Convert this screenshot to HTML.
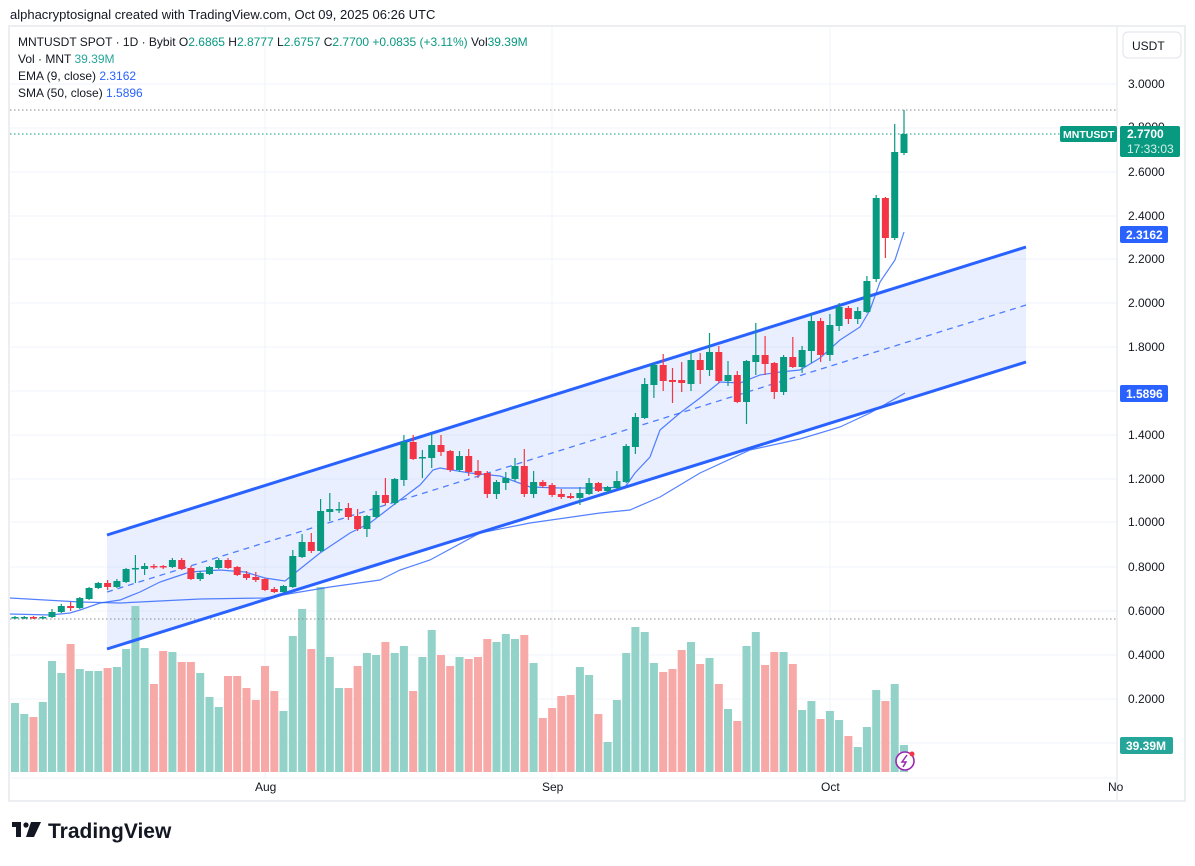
<!DOCTYPE html>
<html><head><meta charset="utf-8"><style>
body{margin:0;background:#fff;width:1195px;height:861px;overflow:hidden;font-family:"Liberation Sans",sans-serif;}
svg text{font-family:"Liberation Sans",sans-serif;}
</style></head><body>
<svg id="s" width="1195" height="861" xmlns="http://www.w3.org/2000/svg">
<text x="10" y="19" font-size="13" fill="#131722">alphacryptosignal created with TradingView.com, Oct 09, 2025 06:26 UTC</text>
<rect x="9" y="26" width="1176" height="775" fill="none" stroke="#eceef2" stroke-width="2"/>
<g id="grid" stroke="#f0f3fa" stroke-width="1"></g>
<polygon points="107,535 1026,247 1026,362 107,649" fill="#2962ff" fill-opacity="0.1"/>
<g id="vol"></g>
<line x1="10" y1="619" x2="1117" y2="619" stroke="#888" stroke-dasharray="1.5,2.5"/>
<line x1="10" y1="110" x2="1117" y2="110" stroke="#888" stroke-dasharray="1.5,2.5"/>
<line x1="10" y1="134" x2="1060" y2="134" stroke="#089981" stroke-dasharray="1.5,2.5"/>
<line x1="107" y1="535" x2="1026" y2="247" stroke="#2962ff" stroke-width="3"/>
<line x1="107" y1="649" x2="1026" y2="362" stroke="#2962ff" stroke-width="3"/>
<line x1="107" y1="592" x2="1026" y2="305" stroke="#2962ff" stroke-width="1.3" stroke-dasharray="6,5" opacity="0.8"/>
<polyline fill="none" stroke="#2962ff" stroke-width="1.2" opacity="0.8" points="10,598 80,602 120,603 200,599 265,598 300,592 330,587 380,580 400,570 430,560 480,533 530,523 600,513 630,510 660,497 700,473 750,450 800,439 840,427 870,413 905,393"/>
<polyline fill="none" stroke="#2962ff" stroke-width="1.2" opacity="0.8" points="10,614 50,615 70,613 80,610 100,603 120,600 140,592 160,582 175,577 190,572 220,570 245,572 265,578 285,581 300,569 320,553 350,533 370,523 400,500 420,485 433,470 440,468 470,473 500,476 530,487 560,488 600,488 625,487 635,473 650,457 660,430 680,413 700,398 720,382 740,383 760,375 780,372 800,370 820,358 840,340 860,327 870,310 880,282 895,260 904,232"/>
<g id="cd"></g>
<line x1="1117" y1="27" x2="1117" y2="800" stroke="#e0e3eb"/>
<line x1="10" y1="778" x2="1117" y2="778" stroke="#f0f3fa"/>
<rect x="1123" y="32" width="58" height="26" rx="5" fill="#fff" stroke="#e0e3eb"/>
<text x="1132" y="50" font-size="12" fill="#131722">USDT</text>
<g id="ax" font-size="12" fill="#131722"></g>
<rect x="1060" y="126" width="57" height="16" rx="2" fill="#089981"/>
<text x="1063" y="138" font-size="10.5" font-weight="bold" fill="#fff">MNTUSDT</text>
<rect x="1120" y="126" width="60" height="31" rx="2" fill="#089981"/>
<text x="1127" y="138" font-size="12" font-weight="bold" fill="#fff">2.7700</text>
<text x="1127" y="153" font-size="12" fill="#d8f0ea">17:33:03</text>
<rect x="1120" y="226" width="48" height="17" rx="2" fill="#2962ff"/>
<text x="1126" y="239" font-size="12" font-weight="bold" fill="#fff">2.3162</text>
<rect x="1120" y="385" width="48" height="17" rx="2" fill="#2962ff"/>
<text x="1126" y="398" font-size="12" font-weight="bold" fill="#fff">1.5896</text>
<rect x="1120" y="737" width="53" height="17" rx="2" fill="#26a69a"/>
<text x="1126" y="750" font-size="12" font-weight="bold" fill="#fff">39.39M</text>
<text x="255" y="791" font-size="12" fill="#131722">Aug</text>
<text x="542" y="791" font-size="12" fill="#131722">Sep</text>
<text x="821" y="791" font-size="12" fill="#131722">Oct</text>
<text x="1108" y="791" font-size="12" fill="#131722">No</text>
<circle cx="905" cy="761" r="9" fill="#fff" stroke="#9c27b0" stroke-width="1.6"/>
<path d="M907,755 L902,762 L906,762 L903,767" fill="none" stroke="#9c27b0" stroke-width="1.5"/>
<circle cx="912" cy="754" r="2.5" fill="#f23645"/>
<text x="18" y="46" font-size="12" fill="#131722">MNTUSDT SPOT · 1D · Bybit <tspan>O</tspan><tspan fill="#089981">2.6865</tspan> H<tspan fill="#089981">2.8777</tspan> L<tspan fill="#089981">2.6757</tspan> C<tspan fill="#089981">2.7700 +0.0835 (+3.11%)</tspan> Vol<tspan fill="#089981">39.39M</tspan></text>
<text x="18" y="63" font-size="12" fill="#131722">Vol · MNT <tspan fill="#26a69a">39.39M</tspan></text>
<text x="18" y="80" font-size="12" fill="#131722">EMA (9, close) <tspan fill="#2962ff">2.3162</tspan></text>
<text x="18" y="97" font-size="12" fill="#131722">SMA (50, close) <tspan fill="#2962ff">1.5896</tspan></text>
<g transform="translate(12,822)"><rect x="0" y="0" width="9" height="5" fill="#131722"/><rect x="4" y="0" width="5" height="15" fill="#131722"/><circle cx="14" cy="3" r="2.6" fill="#131722"/><polygon points="19,0 29,0 22,15 14,15" fill="#131722"/></g>
<text x="48" y="838" font-size="21" font-weight="bold" fill="#131722">TradingView</text>
</svg>
<script>
var NS="http://www.w3.org/2000/svg";
function el(p,t,a){var e=document.createElementNS(NS,t);for(var k in a)e.setAttribute(k,a[k]);document.getElementById(p).appendChild(e);return e;}
var lv=[[3.0,84],[2.8,128],[2.6,172],[2.4,216],[2.2,259],[2.0,303],[1.8,347],[1.6,391],[1.4,435],[1.2,479],[1.0,522],[0.8,567],[0.6,611],[0.4,655],[0.2,699]];
lv.forEach(function(l){el("grid","line",{x1:10,x2:1117,y1:l[1],y2:l[1]});
 if(l[0]!=2.8&&l[0]!=1.6)el("ax","text",{x:1128,y:l[1]+4}).textContent=l[0].toFixed(4);});
el("ax","text",{x:1128,y:131,fill:"#131722"}).textContent="2.8000";
el("grid","line",{x1:10,x2:1117,y1:743,y2:743});
[265,552,830].forEach(function(x){el("grid","line",{x1:x,x2:x,y1:27,y2:778});});
var C=[[618,617,616,619],[618,617,616,619],[617,618,616,619],[618,617,616,619],[617,612,609,618],[612,606,604,613],[606,608,602,611],[608,598,597,609],[599,588,587,600],[588,583,582,589],[583,587,580,590],[587,581,579,588],[582,569,568,583],[569,568,555,583],[569,566,563,575],[566,567,564,569],[566,567,565,569],[567,560,558,568],[560,569,558,570],[568,579,566,580],[579,573,571,581],[574,567,566,575],[568,560,558,569],[560,568,558,569],[567,575,566,576],[574,578,571,580],[577,580,572,582],[579,590,578,591],[589,592,587,593],[592,586,585,593],[587,556,550,588],[557,542,534,558],[542,551,533,553],[551,511,499,552],[512,509,493,521],[510,509,502,513],[508,517,503,520],[516,529,509,531],[529,516,515,537],[517,495,491,518],[495,503,478,505],[503,479,478,505],[480,442,435,486],[442,459,435,460],[457,457,450,478],[458,445,434,468],[445,452,435,456],[451,470,450,472],[470,456,451,472],[456,472,449,476],[471,475,460,478],[473,494,471,498],[494,482,480,499],[483,478,472,490],[479,466,458,481],[466,494,449,497],[494,482,471,498],[482,486,480,488],[485,495,483,497],[494,497,489,499],[496,498,493,499],[498,493,487,505],[494,483,478,495],[483,491,482,492],[491,487,486,493],[488,481,471,489],[482,446,444,483],[447,417,413,454],[418,384,378,419],[385,365,363,398],[365,381,354,391],[380,382,368,403],[380,383,362,392],[384,360,352,391],[360,370,353,384],[370,352,333,376],[352,381,346,383],[381,375,361,386],[375,402,371,403],[402,361,360,424],[362,355,323,375],[355,364,336,375],[363,392,362,399],[392,357,355,395],[357,367,337,368],[367,350,346,373],[351,321,314,363],[321,355,318,362],[355,325,314,361],[326,307,303,331],[308,319,306,324],[319,311,307,324],[312,281,276,313],[279,198,195,282],[198,238,197,258],[238,152,124,240],[153,134,110,155]];
var V=[703,714,717,702,661,673,644,669,671,671,668,667,649,606,648,684,651,652,662,662,673,697,707,676,676,688,700,666,691,711,636,609,649,587,657,688,688,666,653,655,642,653,646,691,657,630,655,666,657,659,657,639,642,634,639,635,663,718,708,696,695,667,675,714,742,700,653,627,632,663,672,669,650,642,664,658,684,709,721,646,632,665,652,652,664,710,701,719,711,720,736,747,727,690,701,684,745];
for(var i=0;i<C.length;i++){var x=15+i*9.26,c=C[i],g=c[1]<=c[0];
 var col=g?"#089981":"#f23645";
 var vc=g?"#92d2c9":"#f7a9a7";
 if(i==96)vc="#92d2c9";
 el("vol","rect",{x:(x-4).toFixed(1),y:V[i],width:8,height:772-V[i],fill:vc});
 el("cd","line",{x1:x.toFixed(1),x2:x.toFixed(1),y1:c[2],y2:c[3],stroke:col,"stroke-width":1.2});
 var t=Math.min(c[0],c[1]),h=Math.max(1.5,Math.abs(c[1]-c[0]));
 el("cd","rect",{x:(x-3.5).toFixed(1),y:t,width:7,height:h,fill:col});}
</script>
</body></html>
